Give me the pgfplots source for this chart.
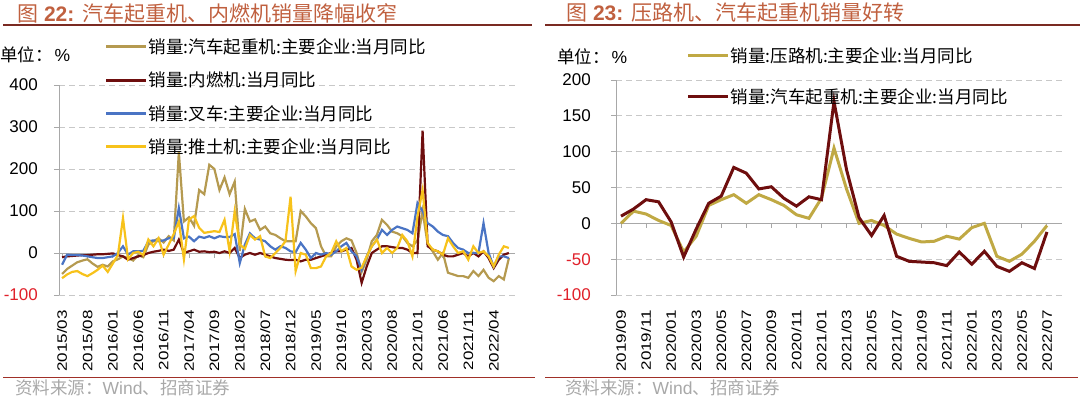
\documentclass[border=0pt]{standalone}
\usepackage{fontspec}
\setmainfont{Liberation Sans}
\newfontfamily\cjk{Noto Sans CJK SC}
\usepackage{pgfplots}
\usepackage{pgfplotstable}
\pgfplotsset{compat=1.18}
\definecolor{khaki}{HTML}{B59A50}
\definecolor{dred}{HTML}{6E0E0E}
\definecolor{fblue}{HTML}{4A74C4}
\definecolor{fyel}{HTML}{F7C21B}
\definecolor{ttl}{HTML}{C0603F}
\definecolor{rulec}{HTML}{7A2A22}
\definecolor{botrule}{HTML}{A03028}
\definecolor{gridc}{HTML}{C8C8C8}
\definecolor{axc}{HTML}{A8A8A8}
\definecolor{srcc}{HTML}{A8A8A8}
\definecolor{neg}{HTML}{E0202A}
\newcommand\fs[1]{\fontsize{#1bp}{#1bp}\selectfont}

\pgfplotstableread{
i k d b y
0 -50 -10 -28 -60
1 -38 -8 -4 -51
2 -30 -7 -5 -45
3 -22 -6 -5 -43
4 -18 -5 -6 -50
5 -15 -5 -8 -55
6 -25 -4 -10 -48
7 -33 -3 -12 -40
8 -28 -3 -12 -30
9 -32 -2 -10 -45
10 -20 -1 -8 -25
11 -15 -5 0 -5
12 -8 -8 16 83
13 -12 -16 -4 -15
14 -18 -12 4 0
15 -5 -8 4 3
16 -10 -5 5 -5
17 20 0 28 32
18 28 3 30 16
19 35 5 28 35
20 25 8 30 -4
21 40 5 35 20
22 30 8 35 45
23 240 32 107 75
24 75 0 35 -15
25 85 4 39 80
26 65 8 28 88
27 150 3 39 60
28 140 4 36 48
29 210 2 40 50
30 200 3 35 52
31 150 0 40 50
32 180 4 38 79
33 140 0 38 4
34 170 12 45 99
35 5 -12 -24 20
36 105 -4 20 10
37 75 0 47 43
38 80 -4 35 32
39 55 0 32 40
40 63 -4 28 -8
41 47 -8 16 -12
42 43 -12 8 0
43 35 -14 16 12
44 28 -16 12 28
45 28 -17 4 134
46 28 -16 2 -43
47 100 -20 24 0
48 87 -16 8 -4
49 71 -16 -12 -36
50 59 -12 0 -36
51 16 -8 -4 -32
52 -8 -4 0 -8
53 -8 0 -4 0
54 16 4 4 28
55 28 4 16 4
56 35 8 24 12
57 30 12 4 -32
58 0 -16 -8 -40
59 -45 -71 -40 -35
60 -15 -32 -8 -8
61 28 0 16 16
62 43 8 32 32
63 79 16 55 0
64 67 16 43 12
65 51 14 55 0
66 47 12 63 12
67 40 12 59 43
68 24 8 55 28
69 16 0 47 -8
70 30 0 119 87
71 100 291 100 150
72 20 16 71 24
73 4 8 63 8
74 -16 4 51 4
75 0 -4 43 -4
76 -47 -8 40 35
77 -51 -8 24 16
78 -55 -4 12 0
79 -55 0 8 4
80 -59 -8 0 -16
81 -43 0 0 16
82 -55 -8 0 0
83 -40 4 71 4
84 -59 -12 0 -8
85 -67 -36 -32 -32
86 -55 -16 -8 -4
87 -63 -4 -8 16
88 -12 0 -12 12
}\lefttab

\pgfplotstableread{
i r c
0 0 10
1 17 20
2 13 33
3 4 30
4 -3 2
5 -40 -47
6 -18 -8
7 25 28
8 33 38
9 40 78
10 28 70
11 40 48
12 33 51
13 25 35
14 12 24
15 7 37
16 35 33
17 105 170
18 48 75
19 0 8
20 4 -17
21 -3 11
22 -15 -46
23 -21 -53
24 -26 -54
25 -25 -55
26 -18 -59
27 -22 -40
28 -6 -57
29 0 -39
30 -46 -60
31 -53 -67
32 -43 -55
33 -25 -63
34 -3 -12
}\righttab

\pgfplotsset{
  common/.style={
    scale only axis,
    axis x line*=bottom, axis y line*=left,
    x axis line style={draw=none},
    y axis line style={draw=axc, line width=1bp},
    major x tick style={draw=none},
    major y tick style={draw=axc, line width=1bp},
    tick align=outside, major tick length=5bp,
    tick label style={font=\fs{17}},
    xticklabel style={rotate=90, anchor=east, yscale=0.8, inner sep=0pt},
    xticklabel shift=10bp,
    yticklabel style={anchor=east, inner sep=0pt},
    yticklabel shift=16bp,
    legend cell align=left,
    legend image code/.code={\draw[##1, line width=3bp] (0bp,0bp) -- (40bp,0bp);},
  }
}

\begin{document}
\begin{tikzpicture}
\path[use as bounding box] (0,0) rectangle (1080bp,-399bp);

% titles and frame
\node[anchor=west, text=ttl, inner sep=0pt] at (17bp,-13bp) {\fs{21}{\cjk 图} \textbf{22:} {\cjk 汽车起重机、内燃机销量降幅收窄}};
\node[anchor=west, text=ttl, inner sep=0pt] at (566bp,-13bp) {\fs{21}{\cjk 图} \textbf{23:} {\cjk 压路机、汽车起重机销量好转}};
\draw[rulec, line width=1.8bp] (3bp,-25bp) -- (532bp,-25bp);
\draw[rulec, line width=1.8bp] (545bp,-25bp) -- (1080bp,-25bp);
\draw[botrule, line width=1bp] (3bp,-377bp) -- (535bp,-377bp);
\draw[botrule, line width=1bp] (545bp,-377bp) -- (1078bp,-377bp);
\node[anchor=west, text=srcc, inner sep=0pt] at (15bp,-388bp) {\fs{17.5}{\cjk 资料来源：}Wind{\cjk 、招商证券}};
\node[anchor=west, text=srcc, inner sep=0pt] at (565bp,-388bp) {\fs{17.5}{\cjk 资料来源：}Wind{\cjk 、招商证券}};
\node[anchor=west, inner sep=0pt] at (0bp,-55bp) {\fs{17.5}{\cjk 单位：}\hspace{2bp}\%};
\node[anchor=west, inner sep=0pt] at (557bp,-57bp) {\fs{17.5}{\cjk 单位：}\hspace{2bp}\%};

% background grid (short solid dashes), axis lines and ticks, drawn under the data
\begin{scope}[x=1bp, y=1bp]
\foreach \yy in {-295,-211,-169,-127,-85} {
  \foreach \s in {0,10,...,450} {
    \draw[gridc, line width=1bp] ({59+\s},\yy) -- ({65+\s},\yy);
  }
  \draw[axc, line width=1bp] (54,\yy) -- (59,\yy);
}
\draw[axc, line width=1bp] (54,-253) -- (515,-253);
\foreach \xx in {62.05,87.44,112.83,138.22,163.61,189.00,214.39,239.78,265.17,290.56,315.95,341.34,366.73,392.12,417.51,442.90,468.29,493.68} {
  \draw[axc, line width=1bp] (\xx,-253) -- (\xx,-258);
}
\foreach \yy in {-295,-259.17,-187.5,-151.67,-115.83,-80} {
  \foreach \s in {0,10,...,440} {
    \draw[gridc, line width=1bp] ({616+\s},\yy) -- ({622+\s},\yy);
  }
  \draw[axc, line width=1bp] (611,\yy) -- (616,\yy);
}
\draw[axc, line width=1bp] (611,-223.33) -- (1062,-223.33);
\foreach \xx in {621.01,646.07,671.12,696.18,721.24,746.29,771.35,796.40,821.46,846.52,871.57,896.63,921.69,946.74,971.80,996.85,1021.91,1046.97} {
  \draw[axc, line width=1bp] (\xx,-223.33) -- (\xx,-228.33);
}
\end{scope}

% left chart
\begin{axis}[common,
  at={(59bp,-295bp)}, anchor=south west,
  width=456bp, height=210bp,
  xmin=-0.6, xmax=89.2, ymin=-100, ymax=400,
  xtick={0,5,...,85},
  xticklabels={2015/03,2015/08,2016/01,2016/06,2016/11,2017/04,2017/09,2018/02,2018/07,2018/12,2019/05,2019/10,2020/03,2020/08,2021/01,2021/06,2021/11,2022/04},
  ytick={-100,0,100,200,300,400},
  yticklabels={\textcolor{neg}{-100},0,100,200,300,400},
  legend style={draw=none, fill=none, at={(axis description cs:0.100,1.226)}, anchor=north west,
    font=\cjk\fs{17.5}, row sep=15bp, inner sep=0pt, nodes={inner sep=1bp}},
]
\addplot[khaki, line width=2.2bp] table[x=i,y=k]{\lefttab};
\addlegendentry{销量:汽车起重机:主要企业:当月同比}
\addplot[dred, line width=2.2bp] table[x=i,y=d]{\lefttab};
\addlegendentry{销量:内燃机:当月同比}
\addplot[fblue, line width=2.2bp] table[x=i,y=b]{\lefttab};
\addlegendentry{销量:叉车:主要企业:当月同比}
\addplot[fyel, line width=2.2bp] table[x=i,y=y]{\lefttab};
\addlegendentry{销量:推土机:主要企业:当月同比}
\end{axis}

% right chart
\begin{axis}[common,
  at={(616bp,-295bp)}, anchor=south west,
  width=446bp, height=215bp,
  xmin=-0.4, xmax=35.2, ymin=-100, ymax=200,
  xtick={0,2,...,34},
  xticklabels={2019/09,2019/11,2020/01,2020/03,2020/05,2020/07,2020/09,2020/11,2021/01,2021/03,2021/05,2021/07,2021/09,2021/11,2022/01,2022/03,2022/05,2022/07},
  ytick={-100,-50,0,50,100,150,200},
  yticklabels={\textcolor{neg}{-100},\textcolor{neg}{-50},0,50,100,150,200},
  yticklabel shift=20bp,
  legend style={draw=none, fill=none, at={(axis description cs:0.158,1.158)}, anchor=north west,
    font=\cjk\fs{17.5}, row sep=23bp, inner sep=0pt, nodes={inner sep=1bp}},
]
\addplot[khaki!85!yellow, line width=3bp] table[x=i,y=r]{\righttab};
\addlegendentry{销量:压路机:主要企业:当月同比}
\addplot[dred, line width=3bp] table[x=i,y=c]{\righttab};
\addlegendentry{销量:汽车起重机:主要企业:当月同比}
\end{axis}
\end{tikzpicture}
\end{document}
